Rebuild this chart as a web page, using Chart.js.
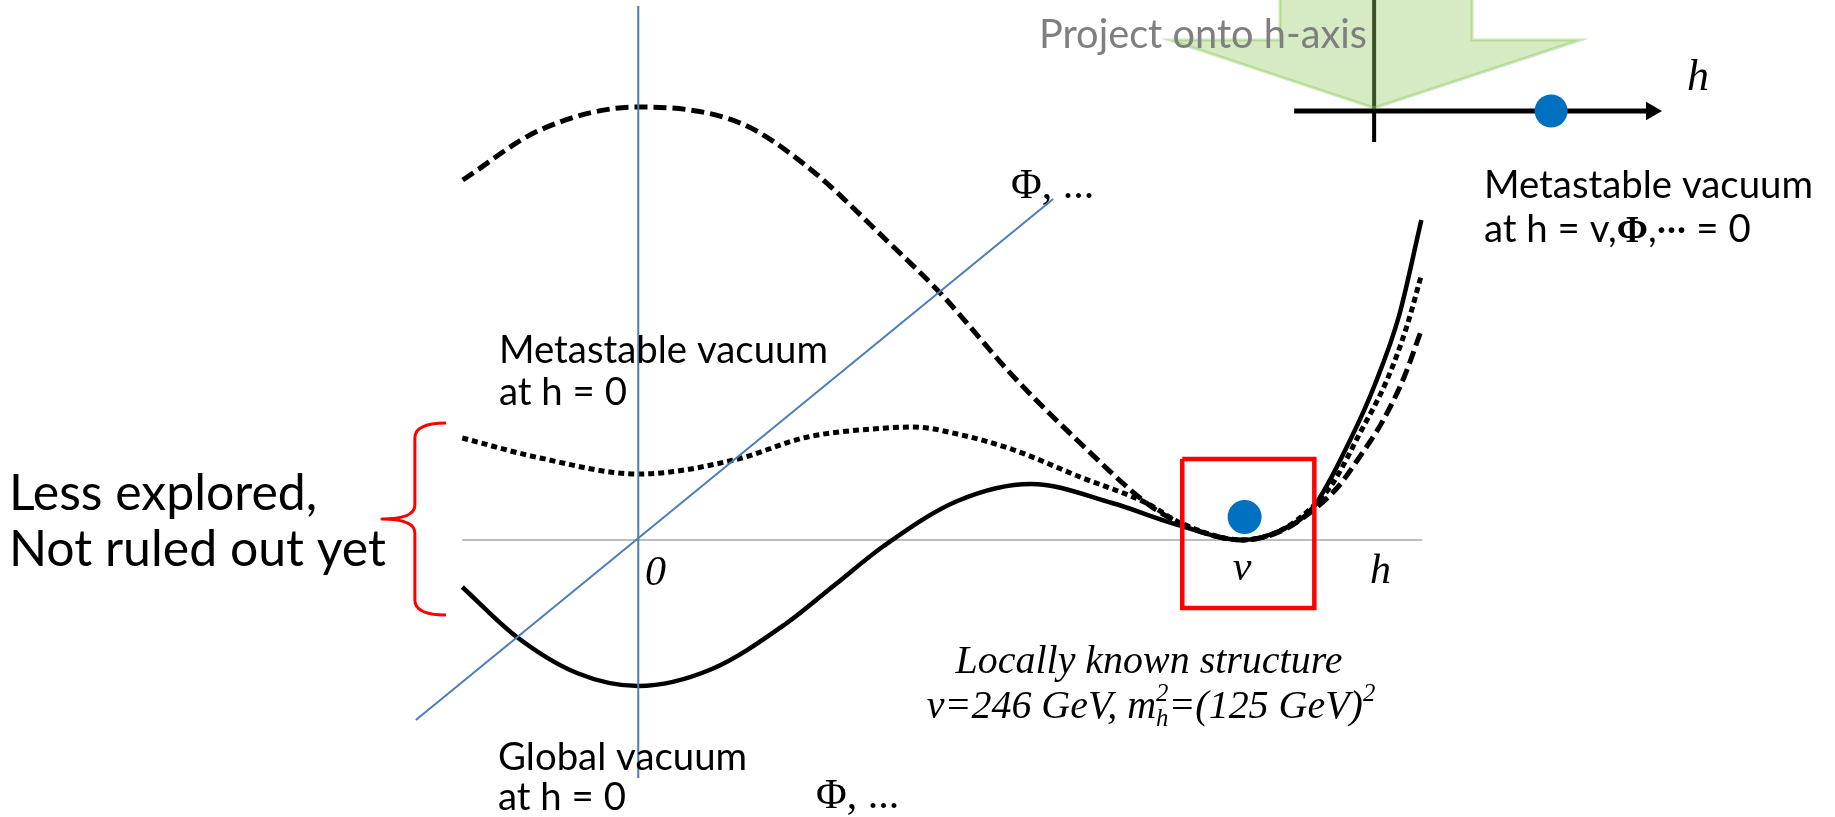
<!DOCTYPE html>
<html>
<head>
<meta charset="utf-8">
<title>Higgs potential landscape</title>
<script src="https://cdn.jsdelivr.net/npm/chart.js@4"></script>
<style>
  html, body { margin: 0; padding: 0; background: #ffffff; }
  #wrap { width: 1835px; height: 817px; }
</style>
</head>
<body>
<div id="wrap"><canvas id="c" width="1835" height="817"></canvas></div>
<script>
// ---- potential curves V(h) (h in GeV, V in arbitrary units) ----
const solidH  = [-71.7, -50, -25, 0, 30, 60, 80, 100, 130, 160, 193, 220, 246, 262, 275, 290, 300, 310, 319];
const solidV  = [-4.7, -9.6, -13.3, -14.6, -12.9, -8.4, -4.5, -0.6, 3.9, 5.6, 3.7, 1.5, 0, 1.0, 3.3, 10, 15.5, 22.5, 32];

const dottedH = [-71.7, -40, 0, 39, 69, 101, 112, 130, 153, 180, 207, 221, 246, 262, 275, 283, 294, 305, 313, 319];
const dottedV = [10.2, 8.2, 6.6, 8.0, 10.3, 11.2, 11.3, 10.6, 9.0, 6.3, 3.7, 1.7, 0, 1.0, 3.4, 5.7, 10.7, 16.0, 21.3, 26.5];

const dashedH = [-71.5, -40, 0, 41.5, 69, 101, 123, 153, 180, 207, 218, 232, 246, 262, 275, 285, 293, 303.5, 312, 319];
const dashedV = [36, 41, 43.3, 41.7, 37.3, 30, 24.7, 16.3, 9.7, 3.7, 2.0, 0.6, 0, 0.9, 3.0, 5.3, 8, 12, 16.3, 21];

// ---- reference axes ----
const hAxisH   = [-71.7, 319.3];  const hAxisV   = [0, 0];
const vertH    = [0, 0];          const vertV    = [53.4, -23.8];
const diagH    = [-90.6, 169];    const diagV    = [-18, 34.1];

// ---- electroweak vacuum marker and local window ----
const vevH = [247];  const vevV = [2.3];
const boxH = [221.6, 275.4, 275.4, 221.6, 221.6];
const boxV = [8.1, 8.1, -6.8, -6.8, 8.1];

// ---- brace marking the unexplored range ----
const braceH = [-78.3, -91.0, -91.0, -91.0, -91.0, -104.4, -91.0, -91.0, -91.0, -91.0, -78.3];
const braceV = [11.7, 11.7, 10.2, 3.5, 2.1, 2.1, 2.1, 0.7, -6.0, -7.5, -7.5];

// ---- projected h-axis (inset) ----
const projAxisH = [-111.2, 386];  const projAxisY = [0, 0];
const projHeadH = [385.3];        const projHeadY = [0];
const projTickH = [0, 0];         const projTickY = [12, -3.1];
const projDotH  = [246];          const projDotY  = [0];
const arrowH = [-130.8, -130.8, -283.7, 0, 286.2, 136.1, 136.1];
const arrowY = [15, 7.1, 7.1, 0.3, 7.1, 7.1, 15];

// ---- text ----
const txtProject   = 'Project onto h-axis';
const txtMeta      = 'Metastable vacuum';
const txtAtV1      = 'at h = v,';
const txtAtV2      = ',··· = 0';
const txtAt0       = 'at h = 0';
const txtGlobal    = 'Global vacuum';
const txtLess1     = 'Less explored,';
const txtLess2     = 'Not ruled out yet';
const txtPhi       = 'Φ, ...';
const txtLocal     = 'Locally known structure';

const pts = (hs, vs) => hs.map((h, i) => ({ x: h, y: vs[i] }));

const lineDs = (data, color, width, extra) => Object.assign({
  data, showLine: true, borderColor: color, borderWidth: width,
  pointRadius: 0, pointHoverRadius: 0, fill: false, tension: 0,
  xAxisID: 'x', yAxisID: 'y'
}, extra || {});

const curve = { cubicInterpolationMode: 'monotone', tension: 0.4, borderCapStyle: 'butt' };

const datasets = [
  // inset marker dot
  { data: pts(projDotH, projDotY), xAxisID: 'xi', yAxisID: 'yi', showLine: false,
    pointRadius: 16.5, pointBackgroundColor: '#0070c0', pointBorderWidth: 0, order: 0 },
  // vacuum marker
  { data: pts(vevH, vevV), xAxisID: 'x', yAxisID: 'y', showLine: false,
    pointRadius: 17, pointBackgroundColor: '#0070c0', pointBorderWidth: 0, order: 1 },
  // inset axis head
  { data: pts(projHeadH, projHeadY), xAxisID: 'xi', yAxisID: 'yi', showLine: false,
    pointStyle: 'triangle', pointRotation: 90, pointRadius: 10.7,
    pointBackgroundColor: '#000000', pointBorderWidth: 0, order: 2 },
  lineDs(pts(projAxisH, projAxisY), '#000000', 5, { xAxisID: 'xi', yAxisID: 'yi', order: 3 }),
  lineDs(pts(boxH, boxV), '#ff0000', 4.5, { order: 4, borderJoinStyle: 'miter' }),
  lineDs(pts(vertH, vertV), '#4a7ebb', 2, { order: 5 }),
  lineDs(pts(diagH, diagV), '#4a7ebb', 2, { order: 6 }),
  lineDs(pts(solidH, solidV), '#000000', 4.5, Object.assign({ order: 7 }, curve)),
  lineDs(pts(dottedH, dottedV), '#000000', 5, Object.assign({ order: 8, borderDash: [6, 4] }, curve)),
  lineDs(pts(dashedH, dashedV), '#000000', 5, Object.assign({ order: 9, borderDash: [13, 6] }, curve)),
  lineDs(pts(projTickH, projTickY), '#000000', 4, { xAxisID: 'xi', yAxisID: 'yi', order: 10 }),
  lineDs(pts(hAxisH, hAxisV), '#a6a6a6', 1.5, { order: 11 })
];

function fitSize(ctx, text, fontOf, width) {
  ctx.font = fontOf(100);
  return 100 * width / ctx.measureText(text).width;
}

const sans  = s => `${s}px Lato`;
const serif = s => `${s}px "Liberation Serif"`;
const serifI = s => `italic ${s}px "Liberation Serif"`;
const serifB = s => `bold ${s}px "Liberation Serif"`;

const overlay = {
  id: 'overlay',
  afterDatasetsDraw(chart) {
    const ctx = chart.ctx;
    const { x, y, xi, yi } = chart.scales;
    ctx.save();

    // translucent projection arrow
    ctx.beginPath();
    arrowH.forEach((h, i) => {
      const px = xi.getPixelForValue(h), py = yi.getPixelForValue(arrowY[i]);
      if (i) ctx.lineTo(px, py); else ctx.moveTo(px, py);
    });
    ctx.closePath();
    ctx.fillStyle = 'rgba(152,202,107,0.4)';
    ctx.fill();
    ctx.lineWidth = 3;
    ctx.lineJoin = 'miter';
    ctx.strokeStyle = 'rgba(140,200,90,0.45)';
    ctx.stroke();

    // red brace
    const bp = braceH.map((h, i) => [x.getPixelForValue(h), y.getPixelForValue(braceV[i])]);
    ctx.beginPath();
    ctx.moveTo(bp[0][0], bp[0][1]);
    ctx.quadraticCurveTo(bp[1][0], bp[1][1], bp[2][0], bp[2][1]);
    ctx.lineTo(bp[3][0], bp[3][1]);
    ctx.quadraticCurveTo(bp[4][0], bp[4][1], bp[5][0], bp[5][1]);
    ctx.quadraticCurveTo(bp[6][0], bp[6][1], bp[7][0], bp[7][1]);
    ctx.lineTo(bp[8][0], bp[8][1]);
    ctx.quadraticCurveTo(bp[9][0], bp[9][1], bp[10][0], bp[10][1]);
    ctx.strokeStyle = '#ff0000';
    ctx.lineWidth = 3;
    ctx.lineJoin = 'round';
    ctx.stroke();

    ctx.textBaseline = 'alphabetic';
    ctx.textAlign = 'left';

    // sans-serif captions
    ctx.fillStyle = '#7f7f7f';
    ctx.font = sans(fitSize(ctx, txtProject, sans, 328));
    ctx.fillText(txtProject, 1039, 48);

    ctx.fillStyle = '#000000';
    const S = fitSize(ctx, txtMeta, sans, 329);
    ctx.font = sans(S);
    ctx.fillText(txtMeta, 1484, 198);
    let cx = 1484;
    ctx.fillText(txtAtV1, cx, 242);
    cx += ctx.measureText(txtAtV1).width;
    ctx.font = serifB(S * 0.98);
    ctx.fillText('Φ', cx, 242);
    cx += ctx.measureText('Φ').width;
    ctx.font = sans(S);
    ctx.fillText(txtAtV2, cx, 242);

    ctx.fillText(txtMeta, 499, 363);
    ctx.fillText(txtAt0, 499, 405);
    ctx.fillText(txtGlobal, 498, 770);
    ctx.fillText(txtAt0, 498, 810);

    ctx.font = sans(fitSize(ctx, txtLess2, sans, 377));
    ctx.fillText(txtLess1, 9, 510);
    ctx.fillText(txtLess2, 9, 566);

    // serif math labels
    ctx.font = serif(42);
    ctx.fillText(txtPhi, 1011, 198);
    ctx.fillText(txtPhi, 816, 808);

    ctx.font = serifI(42);
    ctx.fillText('0', 645, 585);
    ctx.textAlign = 'center';
    ctx.fillText('v', x.getPixelForValue(246), 580);
    ctx.textAlign = 'left';
    ctx.fillText('h', 1370, 583);
    ctx.font = serifI(44);
    ctx.fillText('h', 1687, 90);

    // local structure note
    const L = fitSize(ctx, txtLocal, serifI, 387);
    ctx.font = serifI(L);
    ctx.textAlign = 'center';
    ctx.fillText(txtLocal, 1149, 673);
    ctx.textAlign = 'left';
    const p1 = 'v=246 GeV, m', p2 = '=(125 GeV)';
    const small = serifI(L * 0.62);
    ctx.font = serifI(L); const w1 = ctx.measureText(p1).width, w2 = ctx.measureText(p2).width;
    ctx.font = small; const ws = Math.max(ctx.measureText('2').width, ctx.measureText('h').width), w2s = ctx.measureText('2').width;
    let sx = 1151 - (w1 + ws + w2 + w2s) / 2;
    const base = 718;
    ctx.font = serifI(L); ctx.fillText(p1, sx, base); sx += w1;
    ctx.font = small; ctx.fillText('2', sx, base - L * 0.42); ctx.fillText('h', sx, base + L * 0.2); sx += ws;
    ctx.font = serifI(L); ctx.fillText(p2, sx, base); sx += w2;
    ctx.font = small; ctx.fillText('2', sx, base - L * 0.42);

    ctx.restore();
  }
};

new Chart(document.getElementById('c'), {
  type: 'scatter',
  data: { datasets },
  options: {
    responsive: false,
    maintainAspectRatio: false,
    devicePixelRatio: 1,
    animation: false,
    events: [],
    layout: { padding: 0, autoPadding: false },
    plugins: { legend: { display: false }, tooltip: { enabled: false }, title: { display: false } },
    scales: {
      x:  { type: 'linear', display: false, min: -260,  max: 487.5 },
      y:  { type: 'linear', display: false, min: -27.7, max: 54 },
      xi: { type: 'linear', display: false, min: -1910, max: 640.6 },
      yi: { type: 'linear', display: false, min: -70.6, max: 11.1 }
    }
  },
  plugins: [overlay]
});
</script>
</body>
</html>
